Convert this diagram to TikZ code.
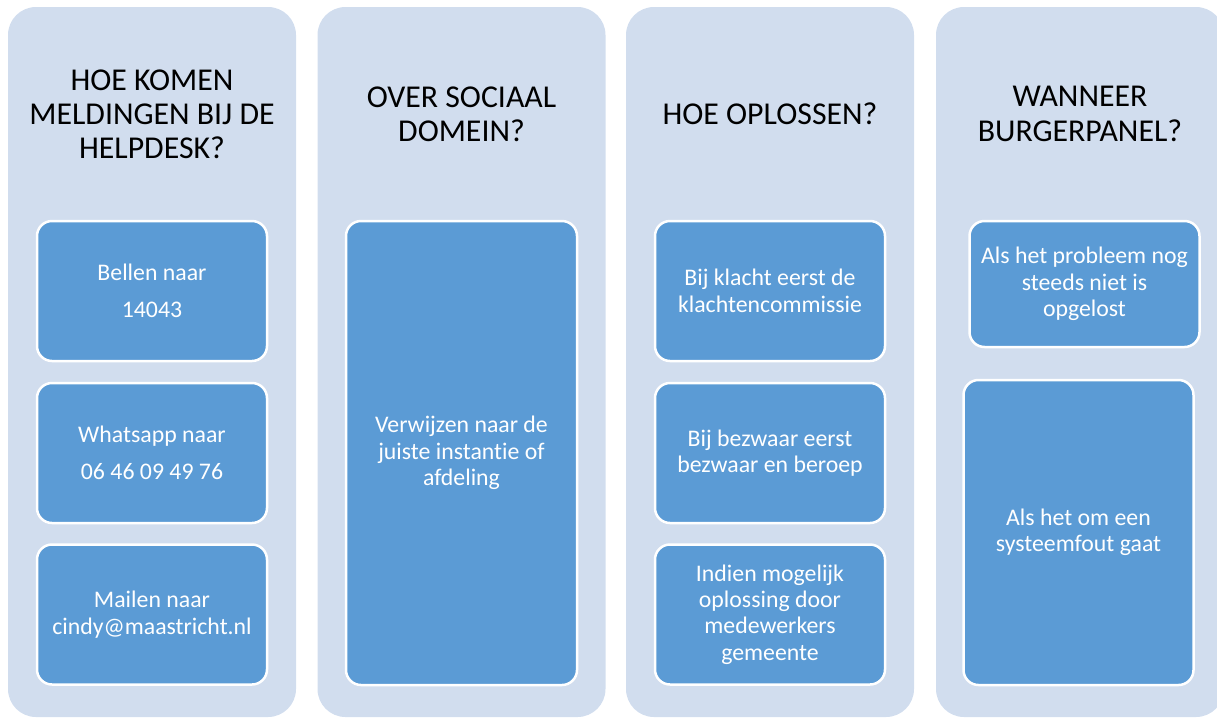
\documentclass[tikz,border=0pt]{standalone}
\usepackage{fontspec}
\setmainfont[Ligatures={NoCommon}]{Carlito}
\definecolor{colfill}{HTML}{D1DDEE}
\definecolor{boxfill}{HTML}{5B9BD5}
\tikzset{
  column/.style={fill=colfill, draw=none, rounded corners=28pt, minimum width=288pt, inner sep=0pt},
  titletext/.style={align=center, font=\fontsize{31.8}{34.2}\selectfont, text=black, inner sep=0pt},
  itembox/.style={fill=boxfill, draw=white, line width=2.5pt, rounded corners=15pt, minimum width=230pt, inner sep=0pt, align=center, text=white, font=\fontsize{23.8}{26.4}\selectfont},
}
\begin{document}
\begin{tikzpicture}[x=1pt,y=-1pt]
\useasboundingbox (0,0) rectangle (1217,718);
\clip (0,0) rectangle (1217,718);
% columns
\node[column, minimum height=710pt] (c1) at (152,362) {};
\node[column, minimum height=710pt] (c2) at (461.5,362) {};
\node[column, minimum height=710pt] (c3) at (770,362) {};
\node[column, minimum height=710pt] (c4) at (1080,362) {};
% titles
\node[titletext] (t1) at (152,114) {HOE KOMEN\\MELDINGEN BIJ DE\\HELPDESK?};
\node[titletext] (t2) at (461.5,114) {OVER SOCIAAL\\DOMEIN?};
\node[titletext] (t3) at (770,114) {HOE OPLOSSEN?};
\node[titletext] (t4) at (1080,114) {WANNEER\\BURGERPANEL?};
% column 1
\node[itembox, minimum height=140pt] (b11) at (152,291) {Bellen naar\\[10.6pt]14043};
\node[itembox, minimum height=140pt] (b12) at (152,453) {Whatsapp naar\\[10.6pt]06 46 09 49 76};
\node[itembox, minimum height=140pt] (b13) at (152,614.5) {Mailen naar\\cindy@maastricht.nl};
% column 2
\node[itembox, minimum width=231pt, minimum height=464pt] (b21) at (461.5,453) {Verwijzen naar de\\juiste instantie of\\afdeling};
% column 3
\node[itembox, minimum height=140pt] (b31) at (770,291) {Bij klacht eerst de\\klachtencommissie};
\node[itembox, minimum height=140pt] (b32) at (770,453) {Bij bezwaar eerst\\bezwaar en beroep};
\node[itembox, minimum height=140pt] (b33) at (770,614.5) {Indien mogelijk\\oplossing door\\medewerkers\\gemeente};
% column 4
\node[itembox, minimum height=126pt] (b41) at (1084.5,284) {Als het probleem nog\\steeds niet is\\opgelost};
\node[itembox, minimum height=305pt] (b42) at (1078.5,532.5) {Als het om een\\systeemfout gaat};
\end{tikzpicture}
\end{document}
